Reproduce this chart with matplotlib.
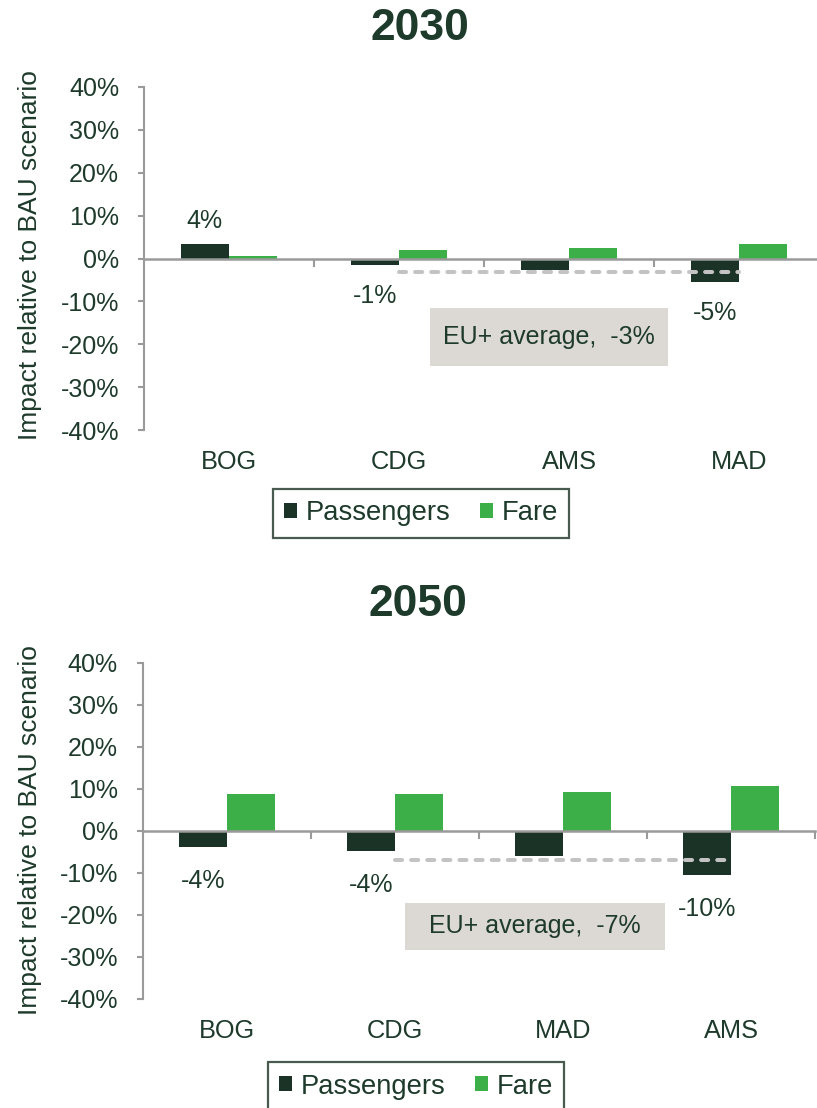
import matplotlib
matplotlib.use("Agg")
import matplotlib.pyplot as plt
from matplotlib.patches import Patch, Rectangle
import numpy as np

# ---------------- data ----------------
cats_2030 = ["BOG", "CDG", "AMS", "MAD"]
passengers_2030 = [3.4, -1.5, -2.6, -5.4]
fare_2030 = [0.6, 2.0, 2.4, 3.4]
labels_2030 = ["4%", "-1%", "", "-5%"]
avg_2030 = -3.1
avg_text_2030 = "EU+ average,  -3%"

cats_2050 = ["BOG", "CDG", "MAD", "AMS"]
passengers_2050 = [-3.9, -4.8, -5.9, -10.5]
fare_2050 = [8.7, 8.7, 9.3, 10.7]
labels_2050 = ["-4%", "-4%", "", "-10%"]
avg_2050 = -7.0
avg_text_2050 = "EU+ average,  -7%"

yticks = [-40, -30, -20, -10, 0, 10, 20, 30, 40]
ytick_labels = [f"{v}%" for v in yticks]

# ---------------- style ----------------
W, H = 817, 1108
DPI = 100
C_PASS = "#1b3226"
C_FARE = "#3daf48"
C_TEXT = "#1d3a2b"
C_AXIS = "#9a9a9a"
C_DASH = "#c3c3c3"
C_BOX = "#dcd8d3"
FONT = "Liberation Sans"
FS = 18

plt.rcParams["font.family"] = [FONT, "DejaVu Sans"]

fig = plt.figure(figsize=(W / DPI, H / DPI), dpi=DPI)


def fx(px):
    return px / W


def fy(py):
    return 1 - py / H


def draw_panel(left, right, top, bottom, cats, pas, fare, labels, avg,
               avg_text, box, title, title_xy, ylab_xy, legend_xy,
               lab_off_neg, lab_off_pos):
    ax = fig.add_axes([fx(left), fy(bottom), fx(right - left), (bottom - top) / H])
    x = np.arange(len(cats))
    w = 0.285
    ax.bar(x - w / 2, pas, width=w, color=C_PASS, zorder=2)
    ax.bar(x + w / 2, fare, width=w, color=C_FARE, zorder=2)
    ax.set_xlim(-0.5, len(cats) - 0.5)
    ax.set_ylim(-40, 40)

    for s in ["top", "right"]:
        ax.spines[s].set_visible(False)
    ax.spines["left"].set_color(C_AXIS)
    ax.spines["left"].set_linewidth(1.5)
    ax.spines["bottom"].set_position(("data", 0))
    ax.spines["bottom"].set_color(C_AXIS)
    ax.spines["bottom"].set_linewidth(1.8)
    ax.spines["bottom"].set_zorder(4)

    ax.set_yticks(yticks)
    ax.set_yticklabels(ytick_labels)
    ax.tick_params(axis="y", direction="out", length=4, width=1.5,
                   color=C_AXIS, pad=14, labelsize=FS, labelcolor=C_TEXT)
    ax.set_xticks(np.arange(len(cats)) + 0.5)
    ax.set_xticklabels([])
    ax.tick_params(axis="x", direction="out", length=6, width=1.5,
                   color=C_AXIS)

    # category labels at the bottom
    for i, c in enumerate(cats):
        ax.annotate(c, xy=(i, 0), xycoords=("data", "axes fraction"),
                    xytext=(0, -32 * 0.72), textcoords="offset points",
                    ha="center", va="center", fontsize=FS + 0.3, color=C_TEXT)

    # data labels for passengers
    for i, (v, lab) in enumerate(zip(pas, labels)):
        if not lab:
            continue
        off = lab_off_pos if v > 0 else -lab_off_neg
        ax.annotate(lab, xy=(i - w / 2, v), xytext=(0, off * 0.72),
                    textcoords="offset points", ha="center", va="center",
                    fontsize=FS, color=C_TEXT)

    # EU+ average dashed line
    ax.plot([1, 3], [avg, avg], color=C_DASH, lw=2.9,
            linestyle=(0, (1.75, 2.25)), dash_capstyle="round", zorder=5)

    # average box
    bx0, by0, bx1, by1 = box
    fig.add_artist(Rectangle((fx(bx0), fy(by1)), fx(bx1 - bx0), (by1 - by0) / H,
                             transform=fig.transFigure, facecolor=C_BOX,
                             edgecolor="none", zorder=1))
    fig.text(fx((bx0 + bx1) / 2), fy((by0 + by1) / 2), avg_text,
             ha="center", va="center", fontsize=FS, color=C_TEXT, zorder=2)

    # title
    fig.text(fx(title_xy[0]), fy(title_xy[1]), title, ha="center", va="center",
             fontsize=32, fontweight="bold", color=C_TEXT)
    # y label
    fig.text(fx(ylab_xy[0]), fy(ylab_xy[1]), "Impact relative to BAU scenario",
             rotation=90, ha="center", va="center", fontsize=19,
             color=C_TEXT)

    handles = [Patch(facecolor=C_PASS, edgecolor="none", label="Passengers"),
               Patch(facecolor=C_FARE, edgecolor="none", label="Fare")]
    leg = fig.legend(handles=handles, loc="center",
                     bbox_to_anchor=(fx(legend_xy[0]), fy(legend_xy[1])),
                     ncol=2, frameon=True, fancybox=False, fontsize=19.7,
                     handlelength=0.48, handleheight=0.48, handletextpad=0.3,
                     columnspacing=1.1, borderpad=0.42, borderaxespad=0)
    leg.get_frame().set_edgecolor(C_PASS)
    leg.get_frame().set_linewidth(1.6)
    for t in leg.get_texts():
        t.set_color(C_TEXT)
    return ax


draw_panel(144, 824, 87, 430, cats_2030, passengers_2030, fare_2030,
           labels_2030, avg_2030, avg_text_2030, (430, 308, 668, 366),
           "2030", (420, 29), (30, 255), (421, 513.5), 31, 23)

draw_panel(143, 815, 663, 999, cats_2050, passengers_2050, fare_2050,
           labels_2050, avg_2050, avg_text_2050, (405, 903, 665, 950),
           "2050", (418, 604), (30, 830), (416, 1086.5), 34, 23)

fig.savefig("out.png", dpi=DPI)
